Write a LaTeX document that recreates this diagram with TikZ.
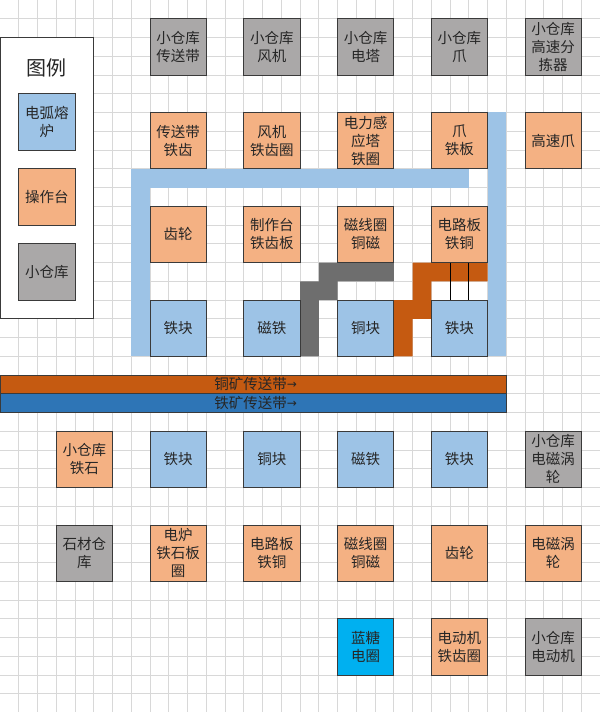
\documentclass[tikz,border=0pt]{standalone}
\usepackage{fontspec}
\setmainfont{Noto Sans CJK SC}
\newfontfamily\arrowfont{DejaVu Sans}
\definecolor{gridc}{HTML}{D8D8D8}
\definecolor{boxblue}{HTML}{9DC3E6}
\definecolor{boxorange}{HTML}{F4B183}
\definecolor{boxgray}{HTML}{AAA8A8}
\definecolor{boxcyan}{HTML}{00B0F0}
\definecolor{edgec}{HTML}{3A3A3A}
\definecolor{txtc}{HTML}{262626}
\definecolor{bandblue}{HTML}{9DC3E6}
\definecolor{bandgray}{HTML}{6E6E6E}
\definecolor{bandorange}{HTML}{C55A11}
\definecolor{beltiron}{HTML}{2E75B6}
\newcommand{\beltarrow}{{\arrowfont\fontsize{12}{14}\selectfont\raisebox{1.2pt}{→}}}
\begin{document}
\begin{tikzpicture}[x=18.75pt,y=-18.75pt,
  gridline/.style={draw=gridc,line width=0.8pt},
  cell/.style={draw=edgec,line width=0.9pt,minimum width=56.25pt,minimum height=56.25pt,
    inner sep=0pt,align=center,text=txtc,font=\fontsize{14.5}{18}\selectfont},
  bluebox/.style={cell,fill=boxblue},
  orangebox/.style={cell,fill=boxorange},
  graybox/.style={cell,fill=boxgray},
  cyanbox/.style={cell,fill=boxcyan},
  belt/.style={draw=edgec,line width=0.8pt},
  belttext/.style={anchor=east,inner sep=0pt,text=txtc,font=\fontsize{14.5}{18}\selectfont},
  link/.style={draw=black,line width=0.8pt}]
\useasboundingbox (0,0) rectangle (32,37.973);
\fill[white] (0,0) rectangle (32,37.973);
\foreach \i in {1,...,31} \draw[gridline] (\i,0) -- (\i,37.973);
\foreach \j in {1,...,37} \draw[gridline] (0,\j) -- (32,\j);

% legend
\draw[draw=edgec,line width=1pt,fill=white] (0.03,2) rectangle (5,17);
\node[text=txtc,font=\fontsize{20}{24}\selectfont] (legendtitle) at (2.5,3.6) {图例};
\node[bluebox] (lg1) at (2.5,6.5) {电弧熔\\炉};
\node[orangebox] (lg2) at (2.5,10.5) {操作台};
\node[graybox] (lg3) at (2.5,14.5) {小仓库};

% bands
\fill[bandblue] (7,9) rectangle (25,10);
\fill[bandblue] (7,9) rectangle (8,19);
\fill[bandblue] (26,6) rectangle (27,19);
\fill[bandgray] (17,14) -- (21,14) -- (21,15) -- (18,15) -- (18,16) -- (17,16) -- (17,19) -- (16,19) -- (16,15) -- (17,15) -- cycle;
\fill[bandorange] (22,14) -- (26,14) -- (26,15) -- (23,15) -- (23,17) -- (22,17) -- (22,19) -- (21,19) -- (21,16) -- (22,16) -- cycle;

% row 1
\node[graybox] (r1a) at (9.5,2.5) {小仓库\\传送带};
\node[graybox] (r1b) at (14.5,2.5) {小仓库\\风机};
\node[graybox] (r1c) at (19.5,2.5) {小仓库\\电塔};
\node[graybox] (r1d) at (24.5,2.5) {小仓库\\爪};
\node[graybox] (r1e) at (29.5,2.5) {小仓库\\高速分\\拣器};
% row 2
\node[orangebox] (r2a) at (9.5,7.5) {传送带\\铁齿};
\node[orangebox] (r2b) at (14.5,7.5) {风机\\铁齿圈};
\node[orangebox] (r2c) at (19.5,7.5) {电力感\\应塔\\铁圈};
\node[orangebox] (r2d) at (24.5,7.5) {爪\\铁板};
\node[orangebox] (r2e) at (29.5,7.5) {高速爪};
% row 3
\node[orangebox] (r3a) at (9.5,12.5) {齿轮};
\node[orangebox] (r3b) at (14.5,12.5) {制作台\\铁齿板};
\node[orangebox] (r3c) at (19.5,12.5) {磁线圈\\铜磁};
\node[orangebox] (r3d) at (24.5,12.5) {电路板\\铁铜};
% row 4
\node[bluebox] (r4a) at (9.5,17.5) {铁块};
\node[bluebox] (r4b) at (14.5,17.5) {磁铁};
\node[bluebox] (r4c) at (19.5,17.5) {铜块};
\node[bluebox] (r4d) at (24.5,17.5) {铁块};

\draw[link] ([xshift=-9.375pt]r3d.south) -- ([xshift=-9.375pt]r4d.north);
\draw[link] ([xshift=9.375pt]r3d.south) -- ([xshift=9.375pt]r4d.north);

% belts
\draw[belt,fill=bandorange] (0,20) rectangle (27,21);
\draw[belt,fill=beltiron] (0,21) rectangle (27,22);
\node[belttext] (copperbelt) at (15.85,20.5) {铜矿传送带\beltarrow};
\node[belttext] (ironbelt) at (15.85,21.5) {铁矿传送带\beltarrow};

% row 5
\node[orangebox] (r5z) at (4.5,24.5) {小仓库\\铁石};
\node[bluebox] (r5a) at (9.5,24.5) {铁块};
\node[bluebox] (r5b) at (14.5,24.5) {铜块};
\node[bluebox] (r5c) at (19.5,24.5) {磁铁};
\node[bluebox] (r5d) at (24.5,24.5) {铁块};
\node[graybox] (r5e) at (29.5,24.5) {小仓库\\电磁涡\\轮};
% row 6
\node[graybox] (r6z) at (4.5,29.5) {石材仓\\库};
\node[orangebox] (r6a) at (9.5,29.5) {电炉\\铁石板\\圈};
\node[orangebox] (r6b) at (14.5,29.5) {电路板\\铁铜};
\node[orangebox] (r6c) at (19.5,29.5) {磁线圈\\铜磁};
\node[orangebox] (r6d) at (24.5,29.5) {齿轮};
\node[orangebox] (r6e) at (29.5,29.5) {电磁涡\\轮};
% row 7
\node[cyanbox] (r7c) at (19.5,34.5) {蓝糖\\电圈};
\node[orangebox] (r7d) at (24.5,34.5) {电动机\\铁齿圈};
\node[graybox] (r7e) at (29.5,34.5) {小仓库\\电动机};
\end{tikzpicture}
\end{document}
